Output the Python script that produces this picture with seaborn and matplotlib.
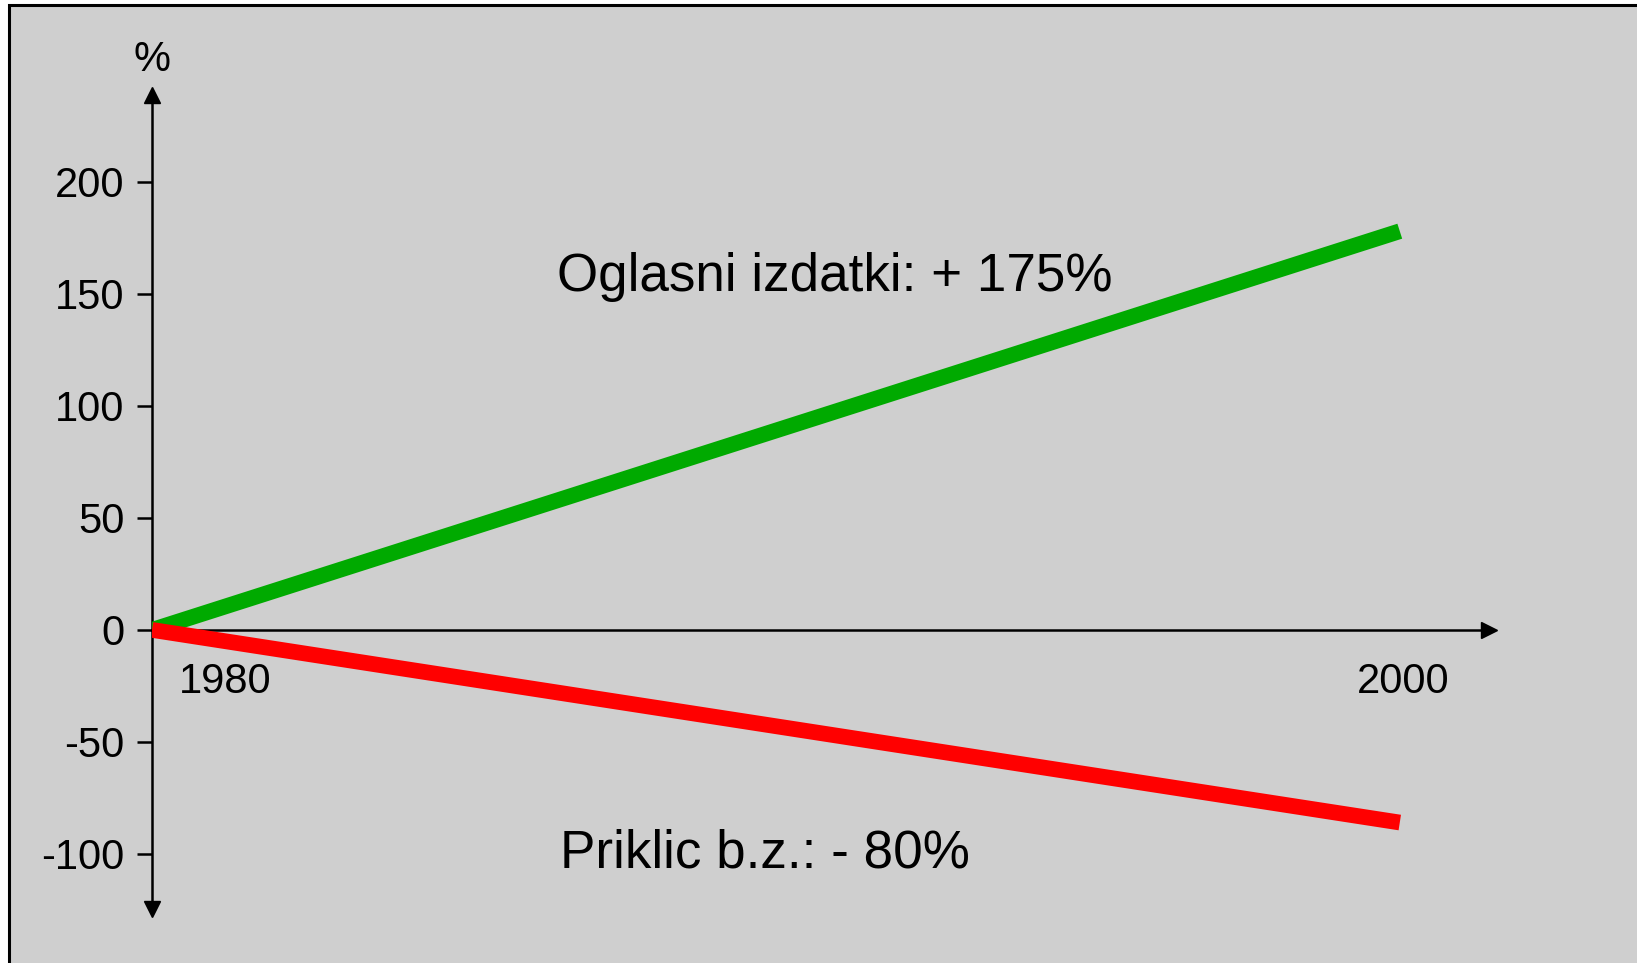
import matplotlib
matplotlib.use("Agg")
import matplotlib.pyplot as plt
from matplotlib.patches import Rectangle
import seaborn as sns
import pandas as pd

# data
years = [1980, 2000]
oglasni = [0, 178]
priklic = [0, -86]
yticks = [-100, -50, 0, 50, 100, 150, 200]

sns.set_theme(style="white")
plt.rcParams['font.family'] = ['Liberation Sans', 'DejaVu Sans']
plt.rcParams['text.color'] = 'black'
plt.rcParams['ytick.color'] = 'black'
plt.rcParams['ytick.labelcolor'] = 'black'

W, H = 1637, 963
fig = plt.figure(figsize=(W / 100, H / 100), dpi=100, facecolor="white")

# gray slide background with black frame on top/left
fig.add_artist(Rectangle((9 / W, -0.05), 1.1, 1.05 - 5.5 / H, transform=fig.transFigure,
                         facecolor="#cfcfcf", edgecolor="black", linewidth=2.2, zorder=0))

# axes placed so 1980 -> x=152px, 2000 -> x=1400px, 0 -> y=630px, 200 -> y=182px
left, right, top, bottom = 152, 1489, 95, 909
ax = fig.add_axes([left / W, (H - bottom) / H, (right - left) / W, (bottom - top) / H])
ax.set_facecolor("none")

df = pd.DataFrame({"year": years, "Oglasni izdatki": oglasni, "Priklic b.z.": priklic})
sns.lineplot(data=df, x="year", y="Oglasni izdatki", color="#00aa00", linewidth=11.3,
             solid_capstyle="butt", ax=ax, zorder=3)
sns.lineplot(data=df, x="year", y="Priklic b.z.", color="#ff0000", linewidth=11.3,
             solid_capstyle="butt", ax=ax, zorder=4)

ax.set_xlim(1980, 2001.43)
ax.set_ylim(-124.6, 238.8)
ax.set_xlabel("")
ax.set_ylabel("")

# arrow style axes
for s in ["top", "right"]:
    ax.spines[s].set_visible(False)
ax.spines["bottom"].set_position(("data", 0))
ax.spines["left"].set_position(("data", 1980))
for s in ["bottom", "left"]:
    ax.spines[s].set_color("black")
    ax.spines[s].set_linewidth(1.8)
    ax.spines[s].set_zorder(2)
ax.plot(1, 0, ">", color="black", markersize=11, transform=ax.get_yaxis_transform(), clip_on=False)
ax.plot(1980, 1, "^", color="black", markersize=11, transform=ax.get_xaxis_transform(), clip_on=False)
ax.plot(1980, 0, "v", color="black", markersize=11, transform=ax.get_xaxis_transform(), clip_on=False)

ax.set_xticks([])
ax.set_yticks(yticks)
ax.set_yticklabels([str(v) for v in yticks])
ax.tick_params(axis="y", direction="out", length=10.8, width=1.8, color="black",
               labelcolor="black", labelsize=30, pad=9, left=True)

ax.text(1980, 1.043, "%", transform=ax.get_xaxis_transform(), ha="center", va="center",
        fontsize=30, color="black")
ax.text(1981.17, -23.2, "1980", ha="center", va="center", fontsize=30, color="black")
ax.text(2000.05, -23.2, "2000", ha="center", va="center", fontsize=30, color="black")

ax.text(1986.49, 151.3, "Oglasni izdatki: + 175%", ha="left", va="baseline", fontsize=38.2,
        color="black")
ax.text(1986.54, -106.25, "Priklic b.z.: - 80%", ha="left", va="baseline", fontsize=38.2,
        color="black")

fig.savefig("out.png", dpi=100, facecolor=fig.get_facecolor())
